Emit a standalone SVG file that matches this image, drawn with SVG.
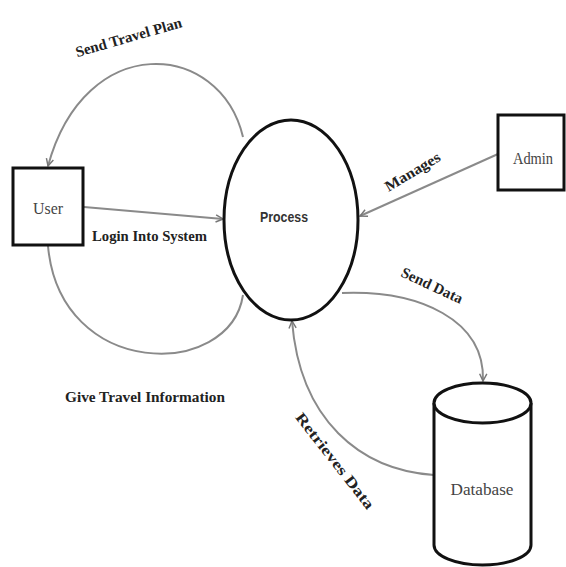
<svg xmlns="http://www.w3.org/2000/svg" width="566" height="567" viewBox="0 0 566 567">
<style>
.box{fill:#fff;stroke:#111;stroke-width:3}
.conn{fill:none;stroke:#8a8a8a;stroke-width:2}
.lbl{font-family:"Liberation Serif",serif;font-weight:bold;font-size:15px;fill:#222}
.name{font-family:"Liberation Serif",serif;font-size:17px;fill:#444;text-anchor:middle}
</style>
<defs>
<marker id="arr" viewBox="0 0 10 10" refX="9" refY="5" markerWidth="9" markerHeight="9" markerUnits="userSpaceOnUse" orient="auto">
<path d="M1,1 L9,5 L1,9" fill="none" stroke="#777" stroke-width="1.6"/>
</marker>
</defs>
<rect width="566" height="567" fill="#fff"/>
<g id="connectors">
<path class="conn" d="M243,137 C220,40 85,30 48,166" marker-end="url(#arr)"/>
<path class="conn" d="M84,207 L223,219" marker-end="url(#arr)"/>
<path class="conn" d="M48,246 C60,380 230,380 243,295"/>
<path class="conn" d="M498,154 L360,216" marker-end="url(#arr)"/>
<path class="conn" d="M342,293 C420,290 485,320 483,381" marker-end="url(#arr)"/>
<path class="conn" d="M434,475 C360,470 300,420 292,321" marker-end="url(#arr)"/>
</g>
<g id="labels">
<text class="lbl" transform="translate(130,42) rotate(-16)" text-anchor="middle" textLength="110" lengthAdjust="spacingAndGlyphs">Send Travel Plan</text>
<text class="lbl" x="92" y="241" textLength="115" lengthAdjust="spacingAndGlyphs">Login Into System</text>
<text class="lbl" x="65" y="402" font-size="16" textLength="160" lengthAdjust="spacingAndGlyphs">Give Travel  Information</text>
<text class="lbl" transform="translate(415,176) rotate(-31)" text-anchor="middle" textLength="62" lengthAdjust="spacingAndGlyphs">Manages</text>
<text class="lbl" transform="translate(430,290) rotate(25)" text-anchor="middle" textLength="66" lengthAdjust="spacingAndGlyphs">Send Data</text>
<text class="lbl" transform="translate(331,464) rotate(52)" text-anchor="middle" textLength="118" lengthAdjust="spacingAndGlyphs">Retrieves Data</text>
</g>
<g id="user">
<rect class="box" x="13" y="168" width="70" height="77"/>
<text class="name" x="48" y="214" textLength="30" lengthAdjust="spacingAndGlyphs">User</text>
</g>
<g id="process">
<ellipse class="box" cx="291" cy="220" rx="67" ry="100"/>
<text x="284" y="222" text-anchor="middle" font-family="'Liberation Sans',sans-serif" font-weight="bold" font-size="15" fill="#333" textLength="48" lengthAdjust="spacingAndGlyphs">Process</text>
</g>
<g id="admin">
<rect class="box" x="498" y="115" width="66" height="75"/>
<text class="name" x="533" y="164" textLength="40" lengthAdjust="spacingAndGlyphs">Admin</text>
</g>
<g id="database">
<path class="box" d="M434,403 L434,545 A48.5,20 0 0 0 531,545 L531,403"/>
<ellipse class="box" cx="482.5" cy="403" rx="48.5" ry="20"/>
<text class="name" x="482" y="495" font-size="19" textLength="63" lengthAdjust="spacingAndGlyphs">Database</text>
</g>
</svg>
